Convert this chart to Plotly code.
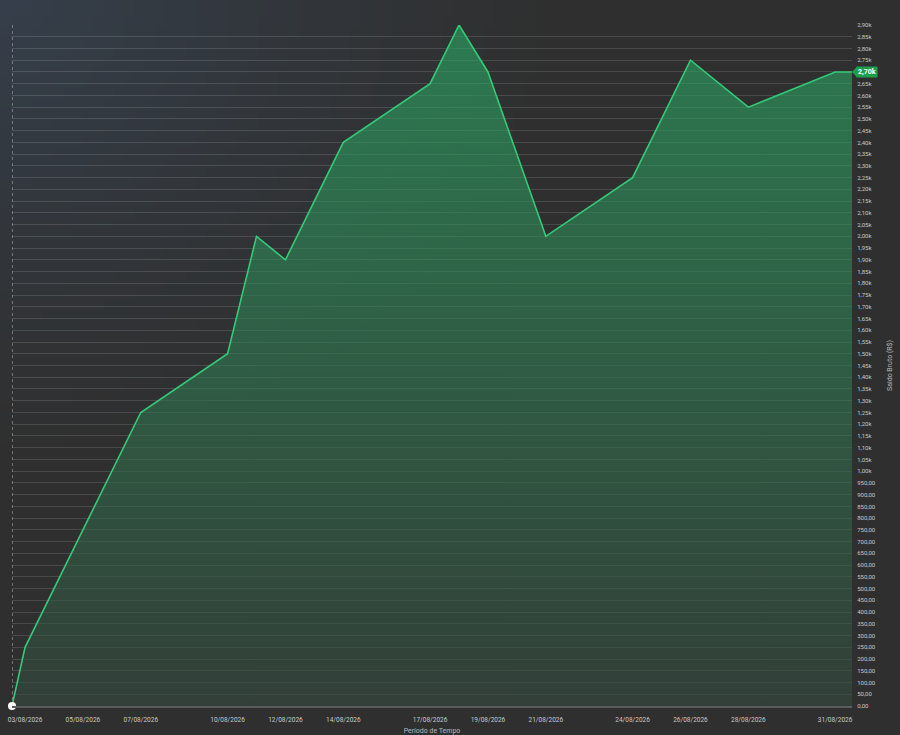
import base64, struct, zlib
import plotly.graph_objects as go

# ---- data ----
start_time = "2026-08-02 13:10"
dates = ["2026-08-03", "2026-08-04", "2026-08-05", "2026-08-06", "2026-08-07",
         "2026-08-10", "2026-08-11", "2026-08-12", "2026-08-14", "2026-08-17",
         "2026-08-18", "2026-08-19", "2026-08-21", "2026-08-24", "2026-08-26",
         "2026-08-28", "2026-08-31"]
saldo = [250, 500, 750, 1000, 1250,
         1500, 2000, 1900, 2400, 2650,
         2900, 2700, 2000, 2250, 2750,
         2550, 2700]
end_time = "2026-08-31 14:00"
tick_dates = ["2026-08-03", "2026-08-05", "2026-08-07", "2026-08-10", "2026-08-12",
              "2026-08-14", "2026-08-17", "2026-08-19", "2026-08-21", "2026-08-24",
              "2026-08-26", "2026-08-28", "2026-08-31"]
y_ticks = list(range(0, 2901, 50))


def fmt(v):
    if v < 1000:
        return f"{v:.2f}".replace(".", ",")
    return f"{v/1000:.2f}".replace(".", ",") + "k"


# the tick at the last value is covered by the value tag
y_labels = ["" if v == saldo[-1] else fmt(v) for v in y_ticks]
tick_labels = [f"{d[8:10]}/{d[5:7]}/{d[0:4]}" for d in tick_dates]

# ---- background gradient image (styling only) ----
W, H = 90, 74
rows = []
for j in range(H):
    row = bytearray([0])
    for i in range(W):
        dx, dy = i / W * 900, j / H * 735
        d = (dx ** 2 + (dy * 1.2) ** 2) ** 0.5
        t = max(0.0, 1 - d / 560)
        t = t ** 1.2
        base = (47, 47, 47)
        tint = (53, 63, 75)
        c = [int(round(base[k] + (tint[k] - base[k]) * t)) for k in range(3)]
        row += bytes(c)
    rows.append(bytes(row))
raw = b"".join(rows)


def chunk(tag, data):
    return struct.pack(">I", len(data)) + tag + data + struct.pack(">I", zlib.crc32(tag + data) & 0xffffffff)


png = b"\x89PNG\r\n\x1a\n" + chunk(b"IHDR", struct.pack(">IIBBBBB", W, H, 8, 2, 0, 0, 0)) \
    + chunk(b"IDAT", zlib.compress(raw, 9)) + chunk(b"IEND", b"")
bg_uri = "data:image/png;base64," + base64.b64encode(png).decode()

xs = [start_time] + dates + [end_time]
ys = [0] + saldo + [saldo[-1]]

line_color = "#35c978"
tag_color = "#1f9e4e"
font = "Roboto, 'Open Sans', sans-serif"

fig = go.Figure()
fig.add_trace(go.Scatter(
    x=xs, y=ys, mode="lines",
    line=dict(color=line_color, width=1.6),
    fill="tozeroy",
    fillgradient=dict(type="vertical",
                      colorscale=[[0, "rgba(52,74,62,0.6)"], [1, "rgba(42,168,100,0.62)"]]),
    hoverinfo="skip", showlegend=False,
))
fig.add_trace(go.Scatter(
    x=[start_time], y=[0], mode="markers", cliponaxis=False,
    marker=dict(color="white", size=8), showlegend=False, hoverinfo="skip",
))

fig.add_shape(type="line", xref="x", yref="paper", x0=start_time, x1=start_time, y0=0, y1=1,
              line=dict(color="rgba(220,220,220,0.75)", width=1, dash="dot"), layer="above")

# last value tag
fig.add_annotation(xref="paper", yref="y", x=1.0, y=saldo[-1], text="<b>" + fmt(saldo[-1]) + "</b>",
                   showarrow=False, xanchor="left", yanchor="middle", xshift=4,
                   font=dict(color="white", size=7, family=font),
                   bgcolor=tag_color, borderpad=1)
fig.add_shape(type="path", xref="paper", yref="y",
              path=f"M 1,{saldo[-1]} L 1.006,{saldo[-1]+22} L 1.006,{saldo[-1]-22} Z",
              fillcolor=tag_color, line=dict(width=0))

fig.update_layout(
    width=900, height=735,
    margin=dict(l=12, r=48, t=25, b=29),
    paper_bgcolor="#2f2f2f",
    plot_bgcolor="rgba(0,0,0,0)",
    images=[dict(source=bg_uri, xref="paper", yref="paper", x=-0.02, y=1.05,
                 sizex=1.1, sizey=1.1, xanchor="left", yanchor="top",
                 sizing="stretch", layer="below")],
    font=dict(family=font, color="#c8c8c8", size=6.5),
    xaxis=dict(
        type="date", range=[start_time, end_time],
        tickvals=tick_dates, ticktext=tick_labels,
        showgrid=False, zeroline=False,
        showline=True, linecolor="#5c5c5c", linewidth=2,
        ticks="outside", ticklen=6, tickcolor="rgba(0,0,0,0)",
        tickfont=dict(size=6.5, color="#c8c8c8"),
        title=dict(text="Período de Tempo", font=dict(size=7, color="#b8b8b8"), standoff=9),
        automargin=False,
    ),
    yaxis=dict(
        side="right", range=[0, 2900],
        tickvals=y_ticks, ticktext=y_labels,
        showgrid=True, gridcolor="rgba(255,255,255,0.13)", gridwidth=1,
        zeroline=False, showline=False,
        ticks="outside", ticklen=3, tickcolor="rgba(0,0,0,0)",
        tickfont=dict(size=6, color="#c8c8c8"),
        title=dict(text="Saldo Bruto (R$)", font=dict(size=7, color="#b8b8b8"), standoff=12),
        automargin=False,
    ),
)

fig.write_html("out.html", config={"displayModeBar": False},
               post_script="document.body.style.margin='0';document.body.style.overflow='hidden';")
